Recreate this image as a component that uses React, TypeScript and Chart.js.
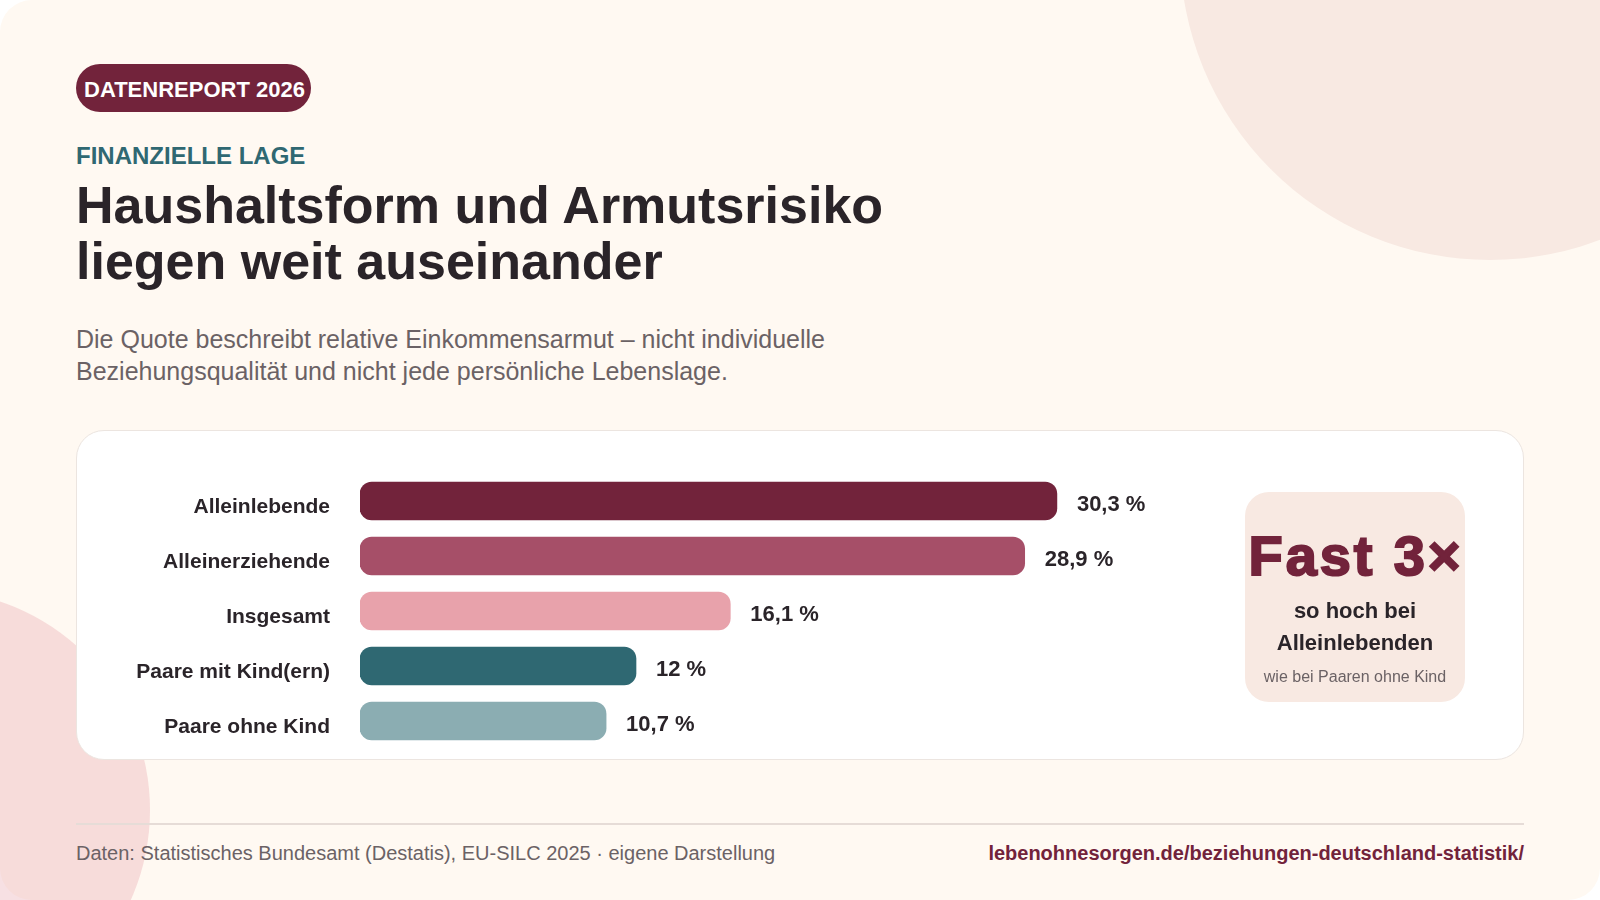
import React, { useRef, useEffect } from "react";
import { Chart, registerables } from "chart.js";

Chart.register(...registerables);

const categories = ["Alleinlebende", "Alleinerziehende", "Insgesamt", "Paare mit Kind(ern)", "Paare ohne Kind"];
const values = [30.3, 28.9, 16.1, 12, 10.7];
const valueLabels = ["30,3 %", "28,9 %", "16,1 %", "12 %", "10,7 %"];
const barColors = ["#72233b", "#a64f68", "#e8a2ab", "#2f6872", "#8badb2"];

const FONT = '"Liberation Sans", Arial, sans-serif';

// draws the "30,3 %" labels next to the bar ends
const valueLabelPlugin = {
  id: "valueLabels",
  afterDatasetsDraw(chart: any) {
    const ctx = chart.ctx;
    const meta = chart.getDatasetMeta(0);
    ctx.save();
    ctx.font = `bold 22px ${FONT}`;
    ctx.fillStyle = "#2a2429";
    ctx.textAlign = "left";
    ctx.textBaseline = "alphabetic";
    meta.data.forEach((bar: any, i: number) => {
      ctx.fillText(valueLabels[i], bar.x + 20, bar.y + 10);
    });
    ctx.restore();
  },
};

const text = (
  content: React.ReactNode,
  left: number,
  top: number,
  size: number,
  color: string,
  extra: React.CSSProperties = {}
) => (
  <div
    style={{
      position: "absolute",
      left,
      top,
      fontSize: size,
      lineHeight: `${size}px`,
      color,
      whiteSpace: "nowrap",
      ...extra,
    }}
  >
    {content}
  </div>
);

const App = () => {
  const chartRef = useRef<HTMLCanvasElement>(null);

  useEffect(() => {
    document.body.style.margin = "0";
    document.body.style.background = "#ffffff";
    const chart = new Chart(chartRef.current!, {
      type: "bar",
      data: {
        labels: categories,
        datasets: [
          {
            data: values,
            backgroundColor: barColors,
            barThickness: 38,
            borderRadius: 12,
            borderSkipped: false,
          },
        ],
      },
      options: {
        indexAxis: "y",
        animation: false,
        responsive: false,
        layout: { padding: { top: 43.5, bottom: 11.5, left: 0, right: 359 } },
        plugins: { legend: { display: false }, tooltip: { enabled: false } },
        scales: {
          x: { display: false, min: 0, max: 35 },
          y: {
            afterFit: (scale: any) => {
              scale.width = 284;
              // tick padding would otherwise eat into the plot height
              scale.paddingTop = 0;
              scale.paddingBottom = 0;
            },
            grid: { display: false, drawTicks: false },
            border: { display: false },
            ticks: {
              padding: 30,
              labelOffset: 6,
              color: "#2a2429",
              font: { family: FONT, size: 21, weight: "bold" },
            },
          },
        },
      },
      plugins: [valueLabelPlugin],
    });
    return () => chart.destroy();
  }, []);

  return (
    <div
      style={{
        position: "absolute",
        left: 0,
        top: 0,
        width: 1600,
        height: 900,
        overflow: "hidden",
        fontFamily: FONT,
      }}
    >
      <div style={{ position: "absolute", left: 0, top: 0, width: 1600, height: 900, borderRadius: 32, background: "#fff9f2" }} />
      {/* the circles sit above the frame, so they also cover its rounded corners */}
      <div style={{ position: "absolute", left: 1180, top: -360, width: 620, height: 620, borderRadius: "50%", background: "#f8e9e2" }} />
      <div style={{ position: "absolute", left: -290, top: 590, width: 440, height: 440, borderRadius: "50%", background: "#e8a2ab", opacity: 0.33 }} />

      <div style={{ position: "absolute", left: 76, top: 64, width: 235, height: 48, borderRadius: 24, background: "#72233b" }} />
      {text("DATENREPORT 2026", 84, 79, 22, "#ffffff", { fontWeight: 700 })}
      {text("FINANZIELLE LAGE", 76, 144, 24, "#2f6872", { fontWeight: 700 })}
      {text("Haushaltsform und Armutsrisiko", 76, 179, 52, "#2a2429", { fontWeight: 700 })}
      {text("liegen weit auseinander", 76, 235, 52, "#2a2429", { fontWeight: 700 })}
      {text("Die Quote beschreibt relative Einkommensarmut – nicht individuelle", 76, 327, 25, "#6b6265")}
      {text("Beziehungsqualität und nicht jede persönliche Lebenslage.", 76, 359, 25, "#6b6265")}

      <div style={{ position: "absolute", left: 76, top: 430, width: 1448, height: 330, boxSizing: "border-box", borderRadius: 28, background: "#ffffff", border: "1.5px solid #ece5e0" }} />
      <canvas ref={chartRef} width={1448} height={330} style={{ position: "absolute", left: 76, top: 430, width: 1448, height: 330 }} />

      <div style={{ position: "absolute", left: 1245, top: 492, width: 220, height: 210, borderRadius: 24, background: "#f8e9e2" }} />
      {text("Fast 3×", 1246, 528, 56, "#72233b", { width: 220, textAlign: "center", fontWeight: 700, letterSpacing: 2.9, WebkitTextStroke: "2px #72233b" })}
      {text("so hoch bei", 1245, 600, 22, "#2a2429", { width: 220, textAlign: "center", fontWeight: 700 })}
      {text("Alleinlebenden", 1245, 632, 22, "#2a2429", { width: 220, textAlign: "center", fontWeight: 700 })}
      {text("wie bei Paaren ohne Kind", 1245, 669, 16, "#6b6265", { width: 220, textAlign: "center" })}

      <div style={{ position: "absolute", left: 76, top: 823, width: 1448, height: 2, background: "#e6dcd7" }} />
      {text("Daten: Statistisches Bundesamt (Destatis), EU-SILC 2025 · eigene Darstellung", 76, 843, 20, "#6b6265")}
      {text("lebenohnesorgen.de/beziehungen-deutschland-statistik/", 924, 843, 20, "#72233b", { width: 600, textAlign: "right", fontWeight: 700 })}
    </div>
  );
};

export default App;
